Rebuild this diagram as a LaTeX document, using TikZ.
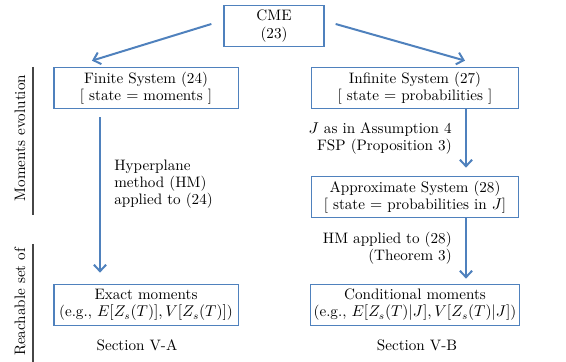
\documentclass[tikz,border=0pt]{standalone}
\usepackage{amsmath}
\usetikzlibrary{arrows.meta, calc, positioning}
\definecolor{boxblue}{RGB}{79,129,189}
\definecolor{sidegray}{RGB}{70,70,70}

\begin{document}
\begin{tikzpicture}[x=0.7pt, y=-0.7pt, font=\fontsize{10.6}{12}\selectfont, >={Straight Barb[length=4.5pt,width=8.5pt]},
  sysbox/.style={rectangle, draw=boxblue, line width=0.9pt, align=center, inner sep=2pt, minimum height=29pt, fill=white},
  flow/.style={->, draw=boxblue, line width=1.4pt},
  sidebar/.style={draw=sidegray, line width=0.8pt}]

\useasboundingbox (0,0) rectangle (566,362);

\node[sysbox, minimum width=70pt] (cme) at (274,26) {CME\\(23)};
\node[sysbox, minimum width=129pt] (fin) at (146,88) {Finite System (24)\\{}[ state $=$ moments ]};
\node[sysbox, minimum width=145pt] (inf) at (415,88) {Infinite System (27)\\{}[ state $=$ probabilities ]};
\node[sysbox, minimum width=145pt] (approx) at (415,197) {Approximate System (28)\\{}[ state $=$ probabilities in $J$]};
\node[sysbox, minimum width=129pt] (exact) at (146,305) {Exact moments\\(e.g., $E[Z_s(T)],V[Z_s(T)]$)};
\node[sysbox, minimum width=145pt] (cond) at (415,305) {Conditional moments\\(e.g., $E[Z_s(T)|J],V[Z_s(T)|J]$)};

\node (secA) at (137,345) {Section V-A};
\node (secB) at (417,345) {Section V-B};

\draw[flow] ($(cme.west)+(-12,-2)$) -- ($(fin.north)+(-54,-6)$);
\draw[flow] ($(cme.east)+(11,-2)$) -- ($(inf.north)+(50,-6)$);
\draw[flow] ($(fin.south)+(-46,8)$) -- ($(exact.north)+(-46,-11)$)
  node[pos=0.43, right=6pt, align=left] {Hyperplane\\method (HM)\\applied to (24)};
\draw[flow] ($(inf.south)+(51,0)$) -- ($(approx.north)+(51,-8)$)
  node[midway, left=6pt, align=right] {$J$ as in Assumption 4\\FSP (Proposition 3)};
\draw[flow] ($(approx.south)+(51,0)$) -- ($(cond.north)+(51,-5)$)
  node[midway, left=6pt, align=right] {HM applied to (28)\\(Theorem 3)};

% side labels
\node[rotate=90] (evol) at (20,138) {Moments evolution};
\node[rotate=90] (reach) at (20,302) {Reachable set of};
\draw[sidebar] (33,67) -- (33,215);
\draw[sidebar] (33,244) -- (33,362);
\end{tikzpicture}
\end{document}
